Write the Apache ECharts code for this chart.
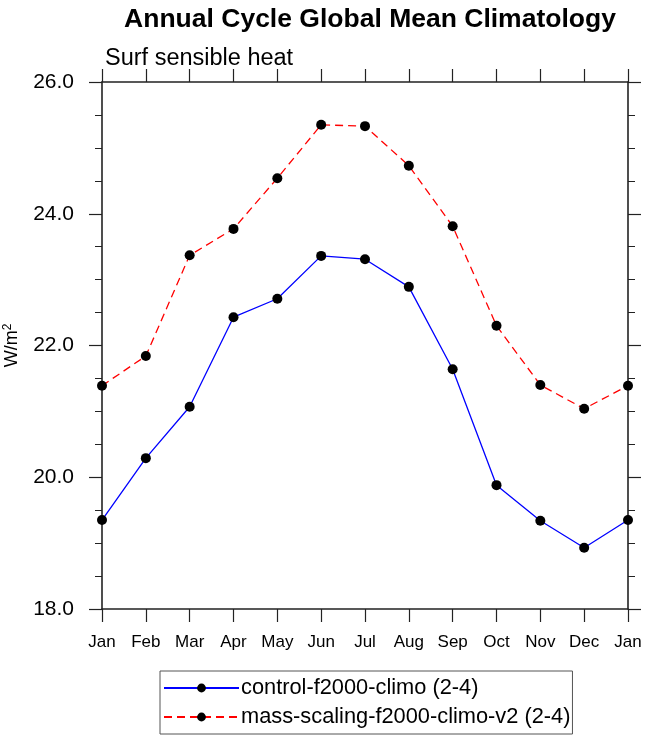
<!DOCTYPE html>
<html>
<head>
  <meta charset="UTF-8">
  <title>Annual Cycle Global Mean Climatology</title>
  <script src="https://cdn.jsdelivr.net/npm/echarts@6/dist/echarts.min.js"></script>
</head>
<body style="margin: 0; background: #fff;">
  <div id="main" style="width: 648px; height: 746px;"></div>
  <script type="text/javascript">
    var months = ['Jan', 'Feb', 'Mar', 'Apr', 'May', 'Jun', 'Jul', 'Aug', 'Sep', 'Oct', 'Nov', 'Dec', 'Jan'];
    var control = [19.35, 20.29, 21.07, 22.43, 22.71, 23.36, 23.31, 22.89, 21.64, 19.88, 19.34, 18.93, 19.35];
    var massScaling = [21.39, 21.84, 23.37, 23.77, 24.54, 25.35, 25.33, 24.73, 23.81, 22.30, 21.40, 21.04, 21.39];
    var yTicks = [18, 20, 22, 24, 26];

    var font = 'Liberation Sans, Arial, Helvetica, sans-serif';
    var myChart = echarts.init(document.getElementById('main'));

    function pairs(arr) {
      return arr.map(function (v, i) { return [i, v]; });
    }

    // axis frame: dark lines, ticks pointing outward, never snapped to zero
    var axisLine = { show: true, onZero: false, lineStyle: { color: '#222', width: 1.6 } };
    var majorTick = { show: true, inside: false, length: 13, lineStyle: { color: '#222', width: 1.2 } };
    var minorTick = { show: true, splitNumber: 4, length: 7, lineStyle: { color: '#222', width: 1 } };

    var option = {
      backgroundColor: '#fff',
      animation: false,
      title: [
        {
          text: 'Annual Cycle Global Mean Climatology',
          left: 365, top: 1, textAlign: 'center',
          textStyle: { fontFamily: font, fontWeight: 'bold', fontSize: 26.5, color: '#000' }
        },
        {
          text: 'Surf sensible heat',
          left: 100, top: 42,
          textStyle: { fontFamily: font, fontWeight: 'normal', fontSize: 23.5, color: '#000' }
        }
      ],
      grid: { left: 102, right: 20, top: 82, bottom: 137, outerBoundsMode: 'none' },
      legend: {
        orient: 'vertical',
        left: 160, top: 671,
        padding: [6, 2, 6, 3],
        itemGap: 7,
        itemWidth: 75,
        itemHeight: 11,
        borderColor: '#555',
        borderWidth: 1,
        textStyle: { fontFamily: font, fontSize: 21.8, color: '#000', padding: [0, 0, 0, -3] },
        data: ['control-f2000-climo (2-4)', 'mass-scaling-f2000-climo-v2 (2-4)']
      },
      xAxis: [
        {
          type: 'value', min: 0, max: 12, interval: 1,
          axisLine: axisLine,
          axisTick: majorTick,
          axisLabel: {
            margin: 25, fontFamily: font, fontSize: 17, color: '#000',
            formatter: function (v) { return months[v]; }
          },
          splitLine: { show: false }
        },
        {
          type: 'value', position: 'top', min: 0, max: 12, interval: 1,
          axisLine: axisLine,
          axisTick: majorTick,
          axisLabel: { show: false },
          splitLine: { show: false }
        }
      ],
      yAxis: [
        {
          type: 'value', position: 'left', min: 18, max: 26, interval: 2,
          name: 'W/m{sup|2}',
          nameLocation: 'middle', nameGap: 80, nameRotate: 90,
          nameTextStyle: {
            fontFamily: font, fontSize: 18, color: '#000',
            rich: { sup: { fontFamily: font, fontSize: 12, color: '#000', verticalAlign: 'top', padding: [0, 0, 8, 0] } }
          },
          axisLine: axisLine,
          axisTick: majorTick,
          minorTick: minorTick,
          axisLabel: {
            margin: 28, fontFamily: font, fontSize: 21, color: '#000',
            formatter: function (v) { return yTicks.indexOf(v) >= 0 ? v.toFixed(1) : ''; }
          },
          splitLine: { show: false }
        },
        {
          type: 'value', position: 'right', min: 18, max: 26, interval: 2,
          axisLine: axisLine,
          axisTick: majorTick,
          minorTick: minorTick,
          axisLabel: { show: false },
          splitLine: { show: false }
        }
      ],
      series: [
        {
          name: 'control-f2000-climo (2-4)',
          type: 'line',
          data: pairs(control),
          symbol: 'circle', symbolSize: 10,
          itemStyle: { color: '#000' },
          lineStyle: { color: '#0000ff', width: 1.3, type: 'solid' },
          z: 3
        },
        {
          name: 'mass-scaling-f2000-climo-v2 (2-4)',
          type: 'line',
          data: pairs(massScaling),
          symbol: 'circle', symbolSize: 10,
          itemStyle: { color: '#000' },
          lineStyle: { color: '#ff0000', width: 1.3, type: [8, 5] },
          z: 3
        }
      ]
    };

    myChart.setOption(option);
  </script>
</body>
</html>
